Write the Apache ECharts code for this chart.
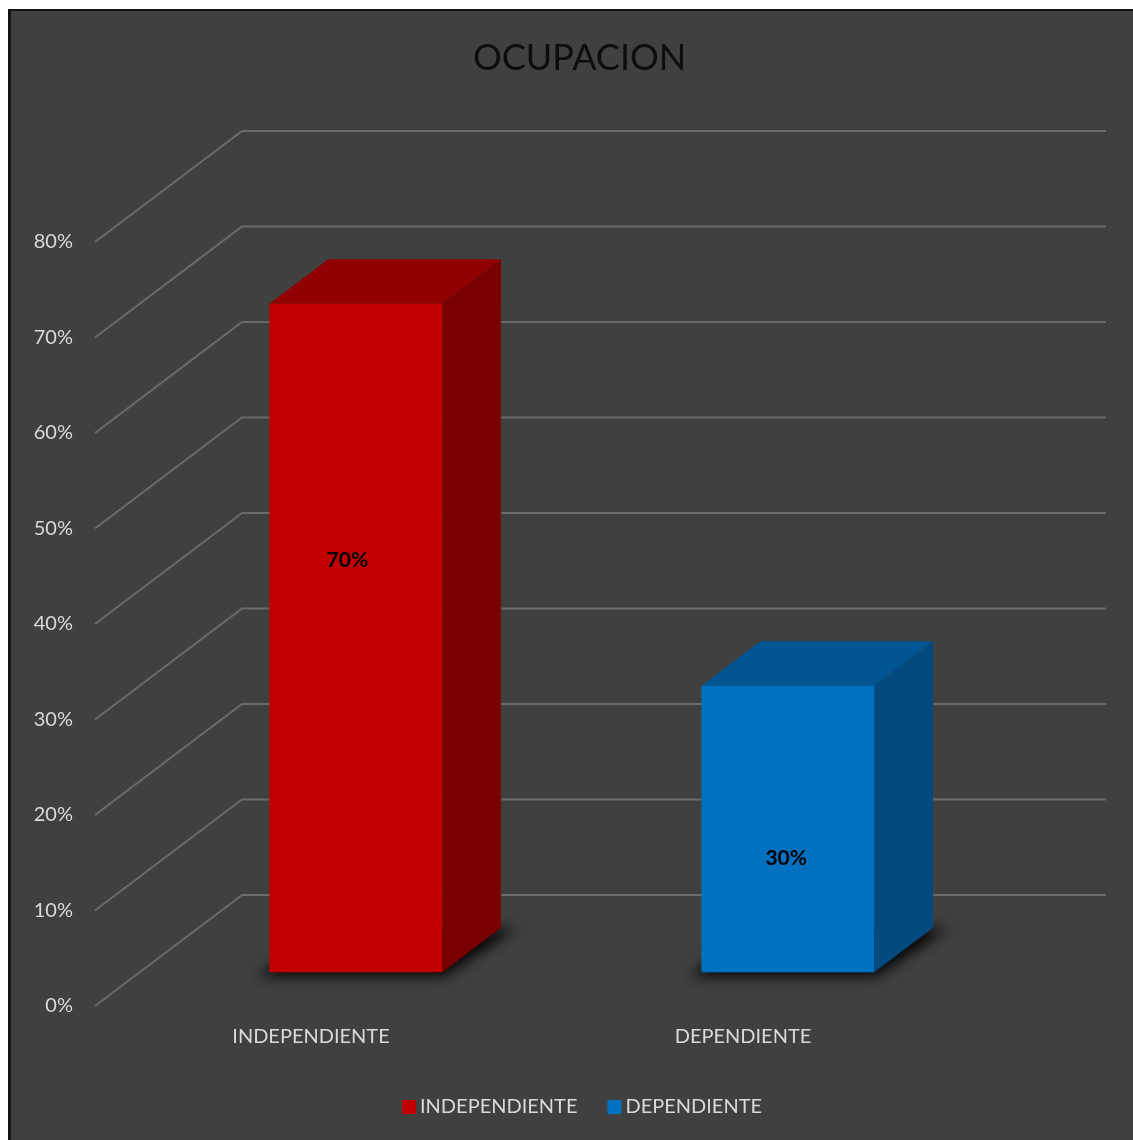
<!DOCTYPE html>
<html>
<head>
<meta charset="utf-8">
<title>OCUPACION</title>
<script src="https://cdn.jsdelivr.net/npm/echarts@6/dist/echarts.min.js"></script>
<style>
  html, body { margin: 0; padding: 0; background: #ffffff; }
  #frame {
    position: absolute; left: 8px; top: 9px; width: 1125px; height: 1131px;
    box-sizing: border-box; background: #404040;
    border-left: 3px solid #141414; border-top: 2px solid #141414;
  }
  #chart { position: absolute; left: 0; top: 0; width: 1133px; height: 1140px; }
</style>
</head>
<body>
<div id="frame"></div>
<div id="chart"></div>
<script>
// Occupation split, in percent
const categories = ['INDEPENDIENTE', 'DEPENDIENTE'];
const values = [70, 30];
const tickValues = [0, 10, 20, 30, 40, 50, 60, 70, 80];

// face colours per category: front, top, side
const faceColors = [
  { front: '#c00000', top: '#900000', side: '#790000' },
  { front: '#0070c0', top: '#005592', side: '#004a80' }
];

// oblique depth of the floor / side wall, in pixels
const DEPTH_X = 147;
const DEPTH_Y = 111;
// bar occupies this slice of the depth
const BAR_D0 = 0.305;
const BAR_D1 = 0.705;
const BAR_RATIO = 0.4;
// the floor shadow is drawn off-canvas and only its blurred shadow is shifted back in
const SHADOW_SHIFT = 3000;

const fontFamily = 'Lato, "Open Sans", sans-serif';

function renderWalls(params, api) {
  const cs = params.coordSys;
  const v = api.value(0);
  const y = api.coord([0, v])[1];
  const x0 = cs.x;
  const x1 = cs.x + cs.width;
  return {
    type: 'polyline',
    shape: { points: [[x0, y], [x0 + DEPTH_X, y - DEPTH_Y], [x1 + DEPTH_X, y - DEPTH_Y]] },
    style: { stroke: '#6b6b6b', lineWidth: 2, fill: null },
    silent: true
  };
}

function makeBarRenderer(colors) {
  return function (params, api) {
    const idx = api.value(0);
    const val = api.value(1);
    const base = api.coord([idx, 0]);
    const top = api.coord([idx, val]);
    const band = api.size([1, 0])[0];
    const w = band * BAR_RATIO;
    const fx = DEPTH_X * BAR_D0, fy = DEPTH_Y * BAR_D0;
    const bx = DEPTH_X * (BAR_D1 - BAR_D0), by = DEPTH_Y * (BAR_D1 - BAR_D0);
    const xl = base[0] - w / 2 + fx;
    const xr = base[0] + w / 2 + fx;
    const yb = base[1] - fy;
    const yt = top[1] - fy;
    const h = yb - yt;
    const labelX = (xl + xr) / 2 + 3.5 - 0.018 * h;
    const labelY = yb - 0.78 * h + 110;
    const s = SHADOW_SHIFT;
    return {
      type: 'group',
      children: [
        { // soft shadow on the floor
          type: 'polygon',
          shape: { points: [[xl - 12 - s, yb + 4], [xr + 2 - s, yb + 4], [xr + bx + 14 - s, yb - by + 1], [xl + bx - s, yb - by]] },
          style: {
            fill: '#000000', shadowBlur: 14, shadowColor: 'rgba(0,0,0,0.95)',
            shadowOffsetX: s, shadowOffsetY: 0
          },
          silent: true
        },
        { // side face
          type: 'polygon',
          shape: { points: [[xr, yt], [xr + bx, yt - by], [xr + bx, yb - by], [xr, yb]] },
          style: { fill: colors.side }
        },
        { // top face
          type: 'polygon',
          shape: { points: [[xl, yt], [xl + bx, yt - by], [xr + bx, yt - by], [xr, yt]] },
          style: { fill: colors.top }
        },
        { // front face
          type: 'rect',
          shape: { x: xl, y: yt, width: xr - xl, height: h },
          style: { fill: colors.front }
        },
        {
          type: 'text',
          x: labelX,
          y: labelY,
          style: {
            text: val + '%', fill: '#000000', fontSize: 21, fontWeight: 'bold',
            fontFamily: fontFamily, align: 'center', verticalAlign: 'middle'
          }
        }
      ]
    };
  };
}

const barSeries = categories.map(function (name, i) {
  return {
    name: name,
    type: 'custom',
    coordinateSystem: 'cartesian2d',
    itemStyle: { color: faceColors[i].front },
    renderItem: makeBarRenderer(faceColors[i]),
    data: [[i, values[i]]],
    z: 3
  };
});

const chart = echarts.init(document.getElementById('chart'), null, { renderer: 'canvas' });
chart.setOption({
  backgroundColor: 'transparent',
  animation: false,
  title: {
    text: 'OCUPACION',
    left: 468,
    top: 35,
    textStyle: { color: '#0d0d0d', fontSize: 36, fontWeight: 'normal', fontFamily: fontFamily }
  },
  legend: {
    left: 397,
    top: 1092,
    icon: 'rect',
    itemWidth: 14,
    itemHeight: 14,
    itemGap: 30,
    data: categories,
    textStyle: { color: '#d9d9d9', fontSize: 20, fontFamily: fontFamily, padding: [0, 0, 0, -1] }
  },
  grid: { left: 95, right: 174, top: 242, bottom: 134 },
  xAxis: {
    type: 'category',
    data: categories,
    axisLine: { show: false },
    axisTick: { show: false },
    splitLine: { show: false },
    axisLabel: { color: '#d9d9d9', fontSize: 20, fontFamily: fontFamily, margin: 21 }
  },
  yAxis: {
    type: 'value',
    min: 0,
    max: 80,
    interval: 10,
    axisLine: { show: false },
    axisTick: { show: false },
    splitLine: { show: false },
    axisLabel: {
      color: '#d9d9d9', fontSize: 20, fontFamily: fontFamily, margin: 22,
      padding: [4, 0, 0, 0], formatter: '{value}%'
    }
  },
  series: [
    {
      name: 'walls',
      type: 'custom',
      coordinateSystem: 'cartesian2d',
      renderItem: renderWalls,
      data: tickValues.map(function (v) { return [v]; }),
      encode: { y: 0 },
      silent: true,
      z: 1
    }
  ].concat(barSeries)
});
</script>
</body>
</html>
